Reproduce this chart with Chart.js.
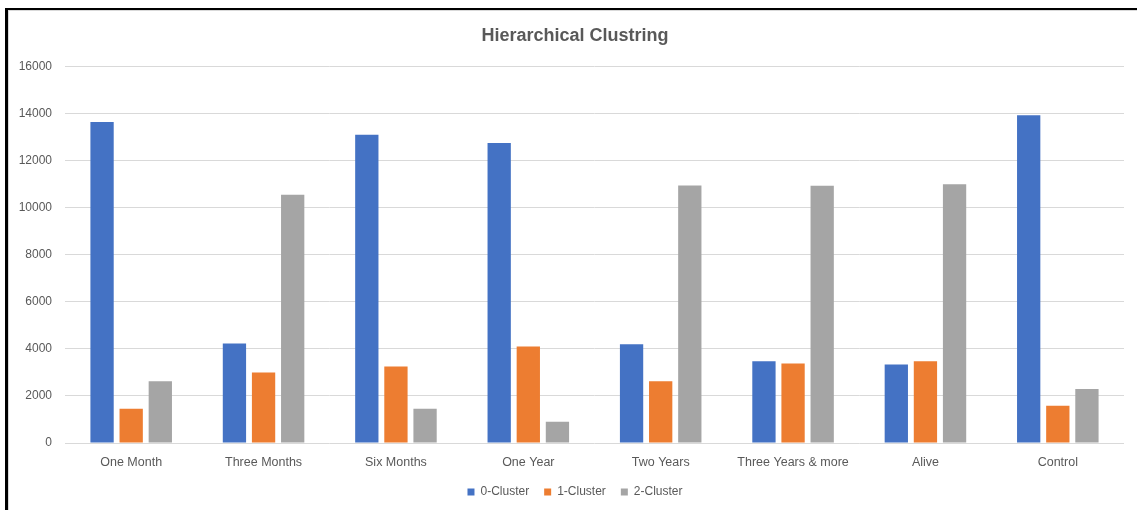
<!DOCTYPE html>
<html>
<head>
<meta charset="utf-8">
<script src="https://cdn.jsdelivr.net/npm/chart.js@4/dist/chart.umd.min.js"></script>
<style>
  html, body { margin: 0; padding: 0; background: #fff; overflow: hidden; }
  #wrap { position: relative; width: 1137px; height: 510px; }
  #frame {
    position: absolute; left: 5px; top: 8px; width: 1200px; height: 600px;
    border-top: 2px solid #000; border-left: 3px solid #000; pointer-events: none;
  }
  #frame::after {
    content: ""; position: absolute; left: 0; top: 0; right: 0; bottom: 0;
    border-top: 1px solid #d9d9d9; border-left: 1px solid #d9d9d9;
  }
  canvas { position: absolute; left: 0; top: 0; }
</style>
</head>
<body>
<div id="wrap">
  <canvas id="chart" width="1137" height="510"></canvas>
  <div id="frame"></div>
</div>
<script>
const categories = ['One Month', 'Three Months', 'Six Months', 'One Year', 'Two Years', 'Three Years & more', 'Alive', 'Control'];
const seriesNames = ['0-Cluster', '1-Cluster', '2-Cluster'];
const cluster0 = [13650, 4230, 13100, 12750, 4200, 3470, 3340, 13930];
const cluster1 = [1460, 3000, 3250, 4100, 2630, 3380, 3470, 1580];
const cluster2 = [2630, 10550, 1460, 900, 10950, 10930, 11000, 2300];
const yTicks = [0, 2000, 4000, 6000, 8000, 10000, 12000, 14000, 16000];

const colors = ['#4472C4', '#ED7D31', '#A5A5A5'];
const textColor = '#595959';
const fontFamily = '"Liberation Sans", Arial, sans-serif';

const series = [cluster0, cluster1, cluster2];

// Title and legend are centred over the whole chart frame, which sits a little
// to the right of the plot's own centre.
const centreShift = {
  id: 'centreShift',
  afterLayout(chart) {
    if (chart.titleBlock) chart.titleBlock.left += 8;
    if (chart.legend) chart.legend.left += 8;
  }
};

new Chart(document.getElementById('chart'), {
  type: 'bar',
  data: {
    labels: categories,
    datasets: series.map((values, i) => ({
      label: seriesNames[i],
      data: values,
      backgroundColor: colors[i],
      borderWidth: 0,
      categoryPercentage: 0.66,
      barPercentage: 0.8
    }))
  },
  plugins: [centreShift],
  options: {
    responsive: false,
    animation: false,
    layout: { padding: { left: 18, right: 13, top: 10, bottom: 2 } },
    plugins: {
      title: {
        display: true,
        text: 'Hierarchical Clustring',
        color: textColor,
        font: { family: fontFamily, size: 18, weight: 'bold' },
        padding: { top: 15, bottom: 20 }
      },
      legend: {
        position: 'bottom',
        labels: {
          color: textColor,
          font: { family: fontFamily, size: 12 },
          boxWidth: 7,
          boxHeight: 7,
          padding: 15
        }
      },
      tooltip: { enabled: false }
    },
    scales: {
      x: {
        grid: { display: false, drawTicks: false },
        border: { display: false },
        afterFit: (scale) => { scale.height = 28; },
        ticks: {
          color: textColor,
          font: { family: fontFamily, size: 12.5 },
          padding: 12,
          maxRotation: 0
        }
      },
      y: {
        min: yTicks[0],
        max: yTicks[yTicks.length - 1],
        afterBuildTicks: (scale) => { scale.ticks = yTicks.map(v => ({ value: v })); },
        afterFit: (scale) => { scale.width = 47; },
        grid: { color: '#d9d9d9', lineWidth: 1, drawTicks: false },
        border: { display: false },
        ticks: {
          color: textColor,
          font: { family: fontFamily, size: 12 },
          padding: 13,
          callback: (v) => String(v)
        }
      }
    }
  }
});
</script>
</body>
</html>
